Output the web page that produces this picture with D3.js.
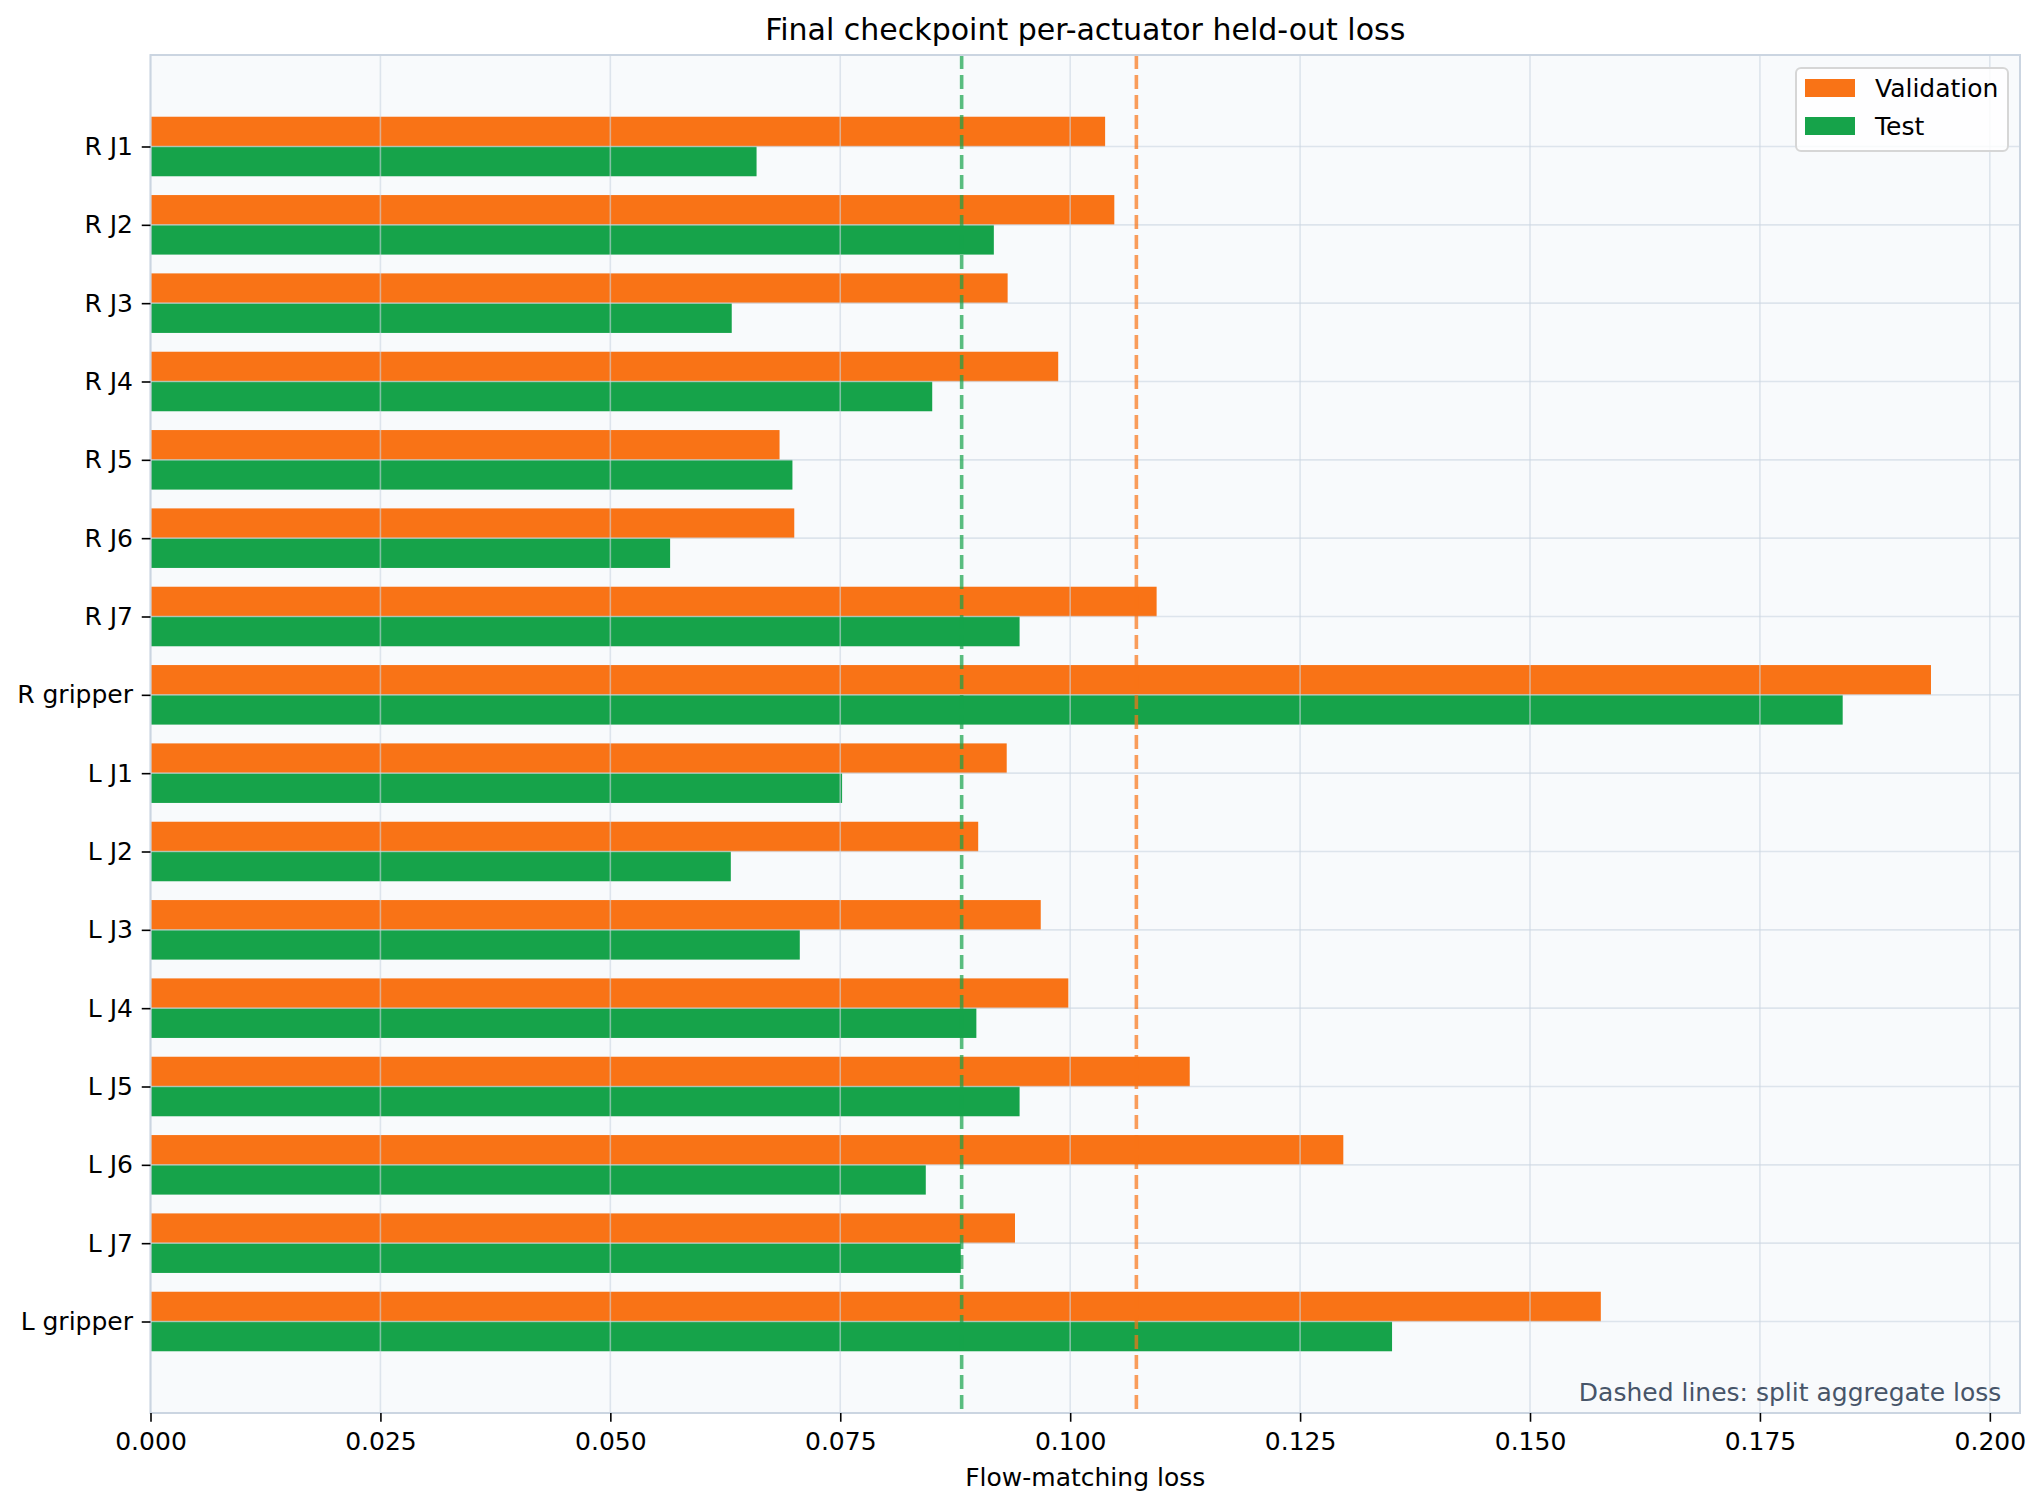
<!DOCTYPE html>
<html>
<head>
<meta charset="utf-8">
<script src="https://cdn.jsdelivr.net/npm/d3@7"></script>
<style>
  body { margin: 0; background: #ffffff; }
  svg { display: block; font-family: "DejaVu Sans", sans-serif; }
</style>
</head>
<body>
<div id="chart"></div>
<script>
// actuators, top to bottom
const categories = ["R J1", "R J2", "R J3", "R J4", "R J5", "R J6", "R J7", "R gripper",
                    "L J1", "L J2", "L J3", "L J4", "L J5", "L J6", "L J7", "L gripper"];

const validationLoss = [0.1038, 0.1048, 0.0932, 0.0987, 0.0684, 0.0700, 0.1094, 0.1936,
                        0.0931, 0.0900, 0.0968, 0.0998, 0.1130, 0.1297, 0.0940, 0.1577];

const testLoss = [0.0659, 0.0917, 0.0632, 0.0850, 0.0698, 0.0565, 0.0945, 0.1840,
                  0.0752, 0.0631, 0.0706, 0.0898, 0.0945, 0.0843, 0.0881, 0.1350];

// split aggregate loss (dashed lines)
const aggregateValidation = 0.1072;
const aggregateTest = 0.0882;

const xTicks = [0, 0.025, 0.05, 0.075, 0.1, 0.125, 0.15, 0.175, 0.2];

const seriesNames = ["Validation", "Test"];

// ---- layout
const W = 2043, H = 1510;
const margin = { top: 55, right: 23, bottom: 97, left: 150.5 };
const width = W - margin.left - margin.right;
const height = H - margin.top - margin.bottom;

const orange = "#f97316", green = "#16a34a";
const barH = 0.38;

const svg = d3.select("#chart")
    .append("svg")
    .attr("width", W)
    .attr("height", H);

svg.append("rect").attr("width", W).attr("height", H).attr("fill", "#ffffff");

const g = svg.append("g")
    .attr("transform", `translate(${margin.left},${margin.top})`);

// x: from 0 with 5% headroom like matplotlib
const xMax = d3.max(validationLoss.concat(testLoss)) * 1.05;
const x = d3.scaleLinear().domain([0, xMax]).range([0, width]);

// y: category index, padded 5% around the bar extents
const lo = -barH, hi = categories.length - 1 + barH;
const pad = 0.05 * (hi - lo);
const y = d3.scaleLinear().domain([lo - pad, hi + pad]).range([0, height]);

g.append("rect")
    .attr("width", width)
    .attr("height", height)
    .attr("fill", "#f8fafc");

// bars
g.selectAll("rect.val")
    .data(validationLoss)
    .join("rect")
    .attr("class", "val")
    .attr("x", x(0))
    .attr("y", (d, i) => y(i - barH))
    .attr("width", d => x(d) - x(0))
    .attr("height", y(barH) - y(0))
    .attr("fill", orange);

g.selectAll("rect.tst")
    .data(testLoss)
    .join("rect")
    .attr("class", "tst")
    .attr("x", x(0))
    .attr("y", (d, i) => y(i))
    .attr("width", d => x(d) - x(0))
    .attr("height", y(barH) - y(0))
    .attr("fill", green);

// grid, drawn over the bars
const grid = g.append("g").attr("stroke", "#cbd5e1").attr("stroke-opacity", 0.6).attr("stroke-width", 1.6);
grid.selectAll("line.gx")
    .data(xTicks)
    .join("line")
    .attr("x1", d => x(d)).attr("x2", d => x(d))
    .attr("y1", 0).attr("y2", height);
grid.selectAll("line.gy")
    .data(categories)
    .join("line")
    .attr("x1", 0).attr("x2", width)
    .attr("y1", (d, i) => y(i)).attr("y2", (d, i) => y(i));

// aggregate dashed lines
[[aggregateTest, green], [aggregateValidation, orange]].forEach(([v, c]) => {
    g.append("line")
        .attr("x1", x(v)).attr("x2", x(v))
        .attr("y1", 0).attr("y2", height)
        .attr("stroke", c)
        .attr("stroke-opacity", 0.7)
        .attr("stroke-width", 3.6)
        .attr("stroke-dasharray", "14,6");
});

// spines
g.append("rect")
    .attr("width", width)
    .attr("height", height)
    .attr("fill", "none")
    .attr("stroke", "#cbd5e1")
    .attr("stroke-width", 2);

// axes
const xAxis = g.append("g")
    .attr("transform", `translate(0,${height})`)
    .call(d3.axisBottom(x).tickValues(xTicks).tickFormat(d3.format(".3f"))
        .tickSize(8.75).tickPadding(8.75));

const yAxis = g.append("g")
    .call(d3.axisLeft(y).tickValues(d3.range(categories.length)).tickFormat(i => categories[i])
        .tickSize(8.75).tickPadding(8.75));

[xAxis, yAxis].forEach(a => {
    a.select(".domain").remove();
    a.selectAll(".tick line").attr("stroke", "#000").attr("stroke-width", 1.6);
    a.selectAll(".tick text")
        .attr("fill", "#000")
        .style("font-family", "DejaVu Sans, sans-serif")
        .style("font-size", "25px");
});
xAxis.selectAll(".tick text").attr("dy", "0.78em");

// titles
svg.append("text")
    .attr("x", margin.left + width / 2)
    .attr("y", 40)
    .attr("text-anchor", "middle")
    .style("font-size", "30px")
    .text("Final checkpoint per-actuator held-out loss");

svg.append("text")
    .attr("x", margin.left + width / 2)
    .attr("y", 1486)
    .attr("text-anchor", "middle")
    .style("font-size", "25px")
    .text("Flow-matching loss");

// note, bottom right inside axes
g.append("text")
    .attr("x", width - 0.01 * width)
    .attr("y", height - 12)
    .attr("text-anchor", "end")
    .attr("fill", "#475569")
    .style("font-size", "25px")
    .text("Dashed lines: split aggregate loss");

// legend
const legend = svg.append("g").attr("transform", "translate(1796,68)");
legend.append("rect")
    .attr("width", 212)
    .attr("height", 83)
    .attr("rx", 5)
    .attr("fill", "#ffffff")
    .attr("fill-opacity", 0.8)
    .attr("stroke", "#d6d6d6")
    .attr("stroke-width", 2);

seriesNames.forEach((name, i) => {
    const row = legend.append("g").attr("transform", `translate(9,${11 + i * 38})`);
    row.append("rect")
        .attr("width", 50)
        .attr("height", 18)
        .attr("fill", i === 0 ? orange : green);
    row.append("text")
        .attr("x", 70)
        .attr("y", 18)
        .style("font-size", "25px")
        .text(name);
});
</script>
</body>
</html>
